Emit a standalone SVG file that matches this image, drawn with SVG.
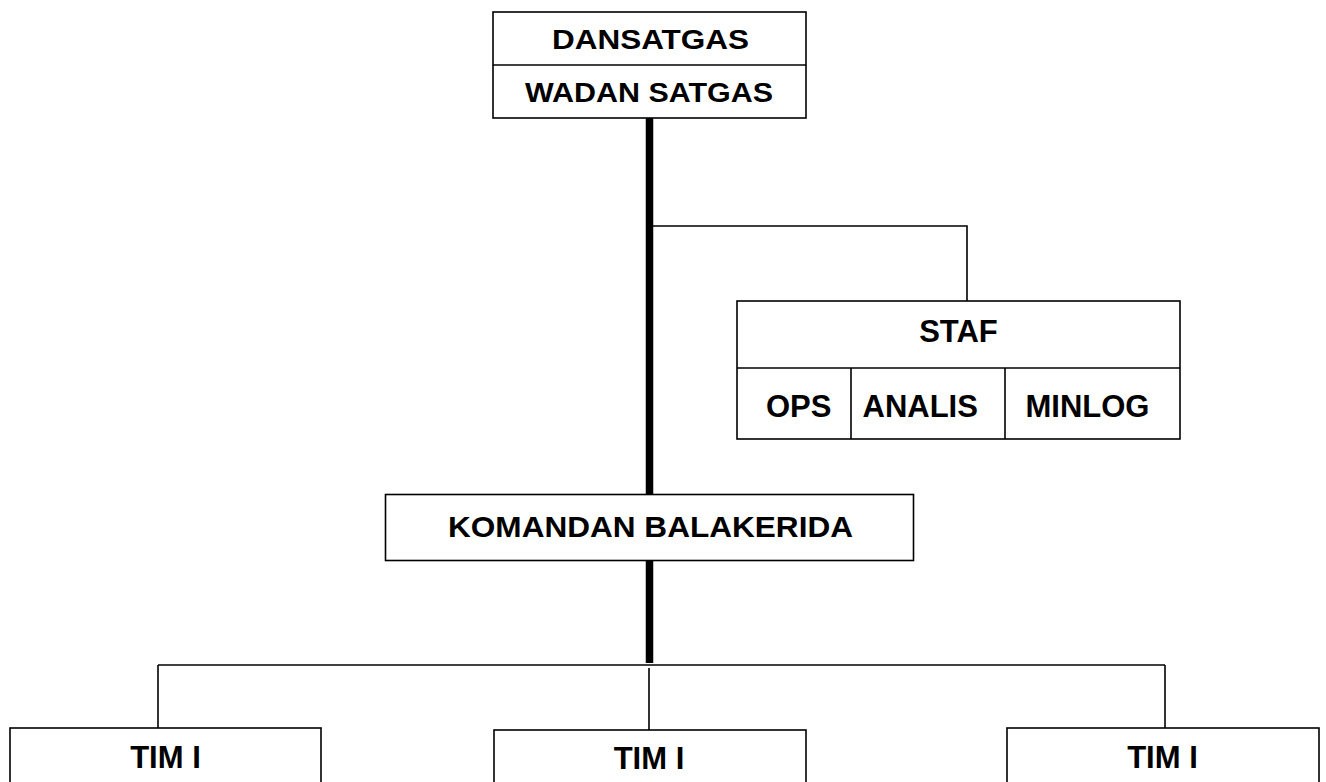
<svg xmlns="http://www.w3.org/2000/svg" width="1326" height="782" viewBox="0 0 1326 782">
<style>
.box{fill:#fff;stroke:#000;stroke-width:1.6}
.ln{fill:none;stroke:#000;stroke-width:1.6}
.thick{fill:none;stroke:#000;stroke-width:7.5}
text{font-family:"Liberation Sans",Arial,sans-serif;font-weight:bold;fill:#000;text-anchor:middle}
.t31{font-size:31px}
.t30{font-size:30px}
.t27{font-size:27px}
</style>
<rect width="1326" height="782" fill="#fff"/>
<g id="connectors">
<line class="thick" x1="649.5" y1="118" x2="649.5" y2="663"/>
<polyline class="ln" points="653,226 967,226 967,301"/>
<line class="ln" x1="158" y1="665" x2="1165" y2="665"/>
<line class="ln" x1="158" y1="665" x2="158" y2="728"/>
<line class="ln" x1="1165" y1="665" x2="1165" y2="728"/>
<line class="ln" x1="649" y1="668" x2="649" y2="730"/>
</g>
<g id="dansatgas">
<rect class="box" x="493" y="12" width="313" height="106"/>
<line class="ln" x1="493" y1="65" x2="806" y2="65"/>
<text class="t27" x="650.5" y="48.5" textLength="197" lengthAdjust="spacingAndGlyphs">DANSATGAS</text>
<text class="t27" x="649" y="102" textLength="248" lengthAdjust="spacingAndGlyphs">WADAN SATGAS</text>
</g>
<g id="staf">
<rect class="box" x="737" y="301" width="443" height="138"/>
<line class="ln" x1="737" y1="368" x2="1180" y2="368"/>
<line class="ln" x1="851" y1="368" x2="851" y2="439"/>
<line class="ln" x1="1005" y1="368" x2="1005" y2="439"/>
<text class="t31" x="958.5" y="341.5">STAF</text>
<text class="t31" x="798.7" y="416.5">OPS</text>
<text class="t31" x="920.2" y="416.5">ANALIS</text>
<text class="t31" x="1087.5" y="416.5">MINLOG</text>
</g>
<g id="komandan">
<rect class="box" x="385.5" y="494.5" width="528" height="66"/>
<text class="t30" x="650.5" y="536.5" textLength="405" lengthAdjust="spacingAndGlyphs">KOMANDAN BALAKERIDA</text>
</g>
<g id="tim1">
<rect class="box" x="10" y="728" width="311" height="70"/>
<text class="t31" x="165.5" y="768">TIM I</text>
</g>
<g id="tim2">
<rect class="box" x="494" y="730" width="312" height="70"/>
<text class="t31" x="649" y="769">TIM I</text>
</g>
<g id="tim3">
<rect class="box" x="1007" y="728" width="312" height="70"/>
<text class="t31" x="1162.5" y="768">TIM I</text>
</g>
</svg>
